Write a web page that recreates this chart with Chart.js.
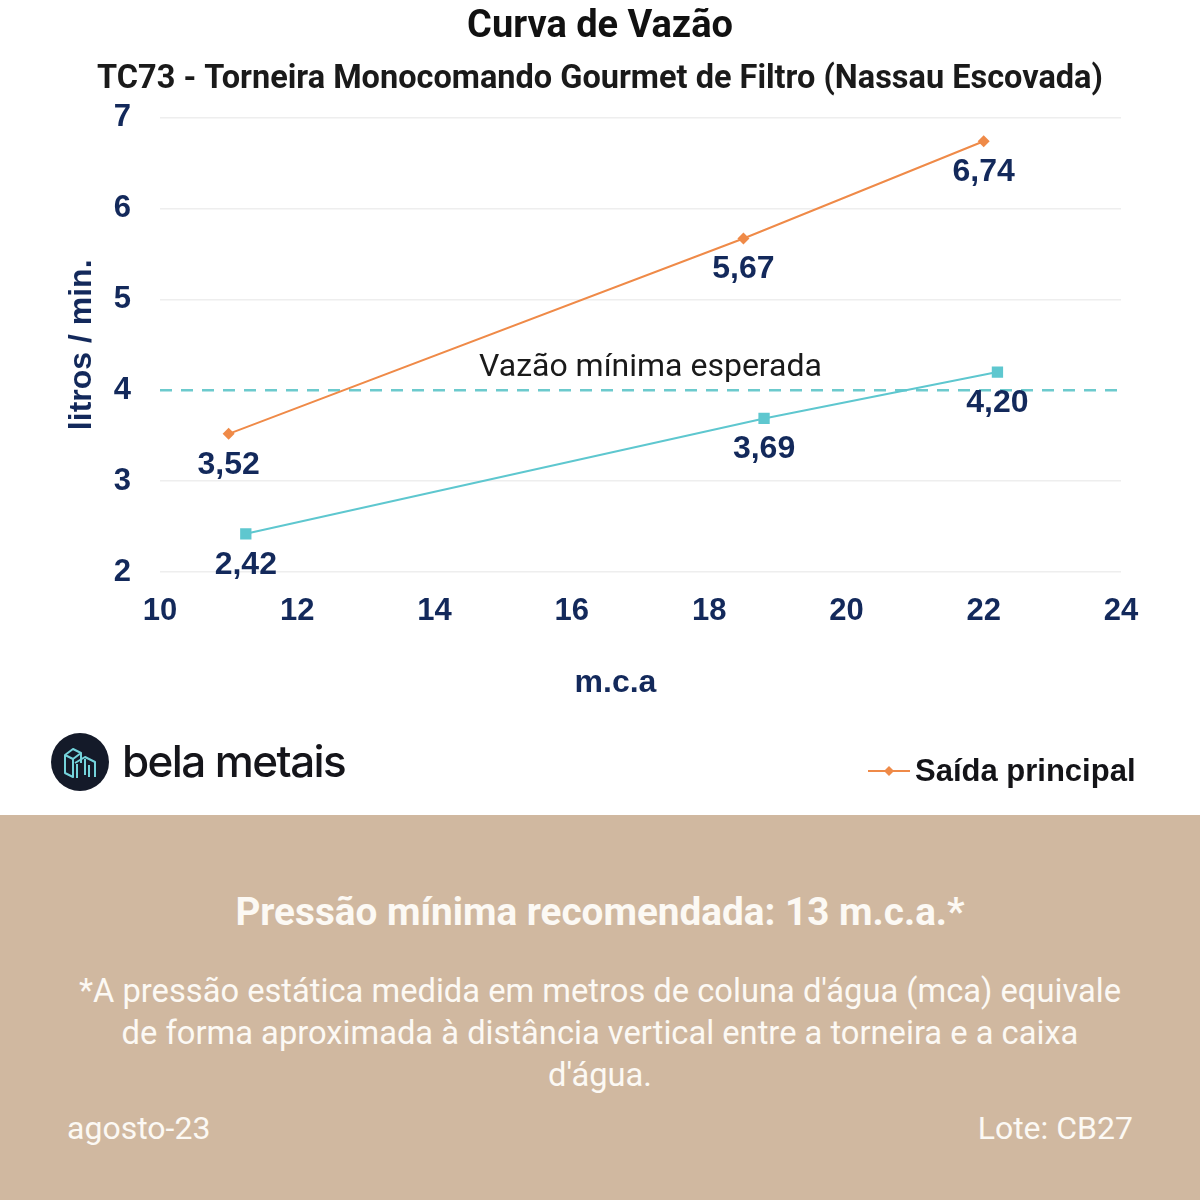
<!DOCTYPE html>
<html><head><meta charset="utf-8">
<script src="https://cdn.jsdelivr.net/npm/chart.js@4.4.0/dist/chart.umd.min.js"></script>
<style>
html,body{margin:0;padding:0;background:#fff;}
#wrap{position:relative;width:1200px;height:1200px;overflow:hidden;background:#fff;}
#chartBox{position:absolute;left:0;top:0;width:1200px;height:815px;}
#logo{position:absolute;left:51px;top:733px;width:300px;height:60px;}
#logoCircle{position:absolute;left:0;top:0;width:58px;height:58px;border-radius:50%;background:#141a29;}
#logoText{position:absolute;left:71px;top:2px;font-family:Inter,"Noto Sans",sans-serif;font-weight:500;font-size:44px;line-height:52px;letter-spacing:-1.6px;color:#15151a;white-space:nowrap;}
#legend{position:absolute;left:866px;top:752px;height:38px;white-space:nowrap;}
#legend svg{position:absolute;left:0;top:0;}
#legend span{position:absolute;left:49px;top:0;font-family:"Liberation Sans",Arial,sans-serif;font-weight:bold;font-size:31px;line-height:38px;color:#141418;}
#panel{position:absolute;left:0;top:815px;width:1200px;height:385px;background:#d0b8a0;color:#fcf9f4;font-family:Roboto,"Liberation Sans",sans-serif;}
#panelTitle{position:absolute;left:0;top:75px;width:1200px;text-align:center;font-weight:bold;font-size:38.7px;line-height:44px;}
#panelNote{position:absolute;left:0;top:155px;width:1200px;text-align:center;font-size:32.7px;line-height:42px;}
#date{position:absolute;left:67px;top:293px;font-size:32px;line-height:40px;}
#lote{position:absolute;right:67px;top:293px;font-size:32px;line-height:40px;}
</style></head><body>
<div id="wrap">
  <div id="chartBox"><canvas id="c" width="1200" height="815"></canvas></div>
  <div id="logo">
    <div id="logoCircle">
      <svg width="58" height="58" viewBox="0 0 58 58">
        <g fill="none" stroke="#74d3db" stroke-width="2" stroke-linejoin="round">
          <path d="M14 22 L22 16 L30 20 L22 26 Z"/>
          <path d="M14 22 L14 40 L22 44 L22 26"/>
          <path d="M30 20 L30 30"/>
          <path d="M24 30 L34 24 L44 29 L44 44"/>
          <path d="M26 31 L26 45 M34 26 L34 42 M38 32 L38 44"/>
        </g>
      </svg>
    </div>
    <div id="logoText">bela metais</div>
  </div>
  <div id="legend">
    <svg width="48" height="38" viewBox="0 0 48 38">
      <line x1="2" y1="19" x2="44" y2="19" stroke="#ef8a48" stroke-width="2"/>
      <path d="M23 14 L28 19 L23 24 L18 19 Z" fill="#ef8a48"/>
    </svg>
    <span id="legendText"></span>
  </div>
  <div id="panel">
    <div id="panelTitle">Pressão mínima recomendada: 13 m.c.a.*</div>
    <div id="panelNote">*A pressão estática medida em metros de coluna d'água (mca) equivale<br>de forma aproximada à distância vertical entre a torneira e a caixa<br>d'água.</div>
    <div id="date">agosto-23</div>
    <div id="lote">Lote: CB27</div>
  </div>
</div>
<script>
// ---- data ----
const chartTitle = 'Curva de Vazão';
const chartSubtitle = 'TC73 - Torneira Monocomando Gourmet de Filtro (Nassau Escovada)';
const mainLabel = 'Saída principal';
const filterLabel = 'Saída filtro';
const thresholdLabel = 'Vazão mínima esperada';
const xAxisTitle = 'm.c.a';
const yAxisTitle = 'litros / min.';
const pressureMain = [11.0, 18.5, 22.0];
const flowMain = [3.52, 5.67, 6.74];
const pressureFilter = [11.25, 18.8, 22.2];
const flowFilter = [2.42, 3.69, 4.20];
const minFlow = 4;
const xRange = [10, 24];
const yRange = [2, 7];
const xStep = 2;
const yStep = 1;

const NAVY = '#13295b';
const ORANGE = '#ef8a48';
const CYAN = '#5ec7cf';
const AXIS_FONT = '"Liberation Sans", Arial, sans-serif';

document.getElementById('legendText').textContent = mainLabel;

const toPoints = (xs, ys) => xs.map((x, i) => ({x: x, y: ys[i]}));

const valueLabels = {
  id: 'valueLabels',
  afterDatasetsDraw(chart) {
    const ctx = chart.ctx;
    const ca = chart.chartArea;
    ctx.save();
    ctx.font = 'bold 32px ' + AXIS_FONT;
    ctx.fillStyle = NAVY;
    ctx.textAlign = 'center';
    ctx.textBaseline = 'middle';
    [0, 1].forEach(di => {
      const meta = chart.getDatasetMeta(di);
      meta.data.forEach((pt, i) => {
        const v = chart.data.datasets[di].data[i].y;
        ctx.fillText(v.toFixed(2).replace('.', ','), pt.x, pt.y + 31);
      });
    });
    // threshold label
    const y = chart.scales.y.getPixelForValue(minFlow);
    ctx.font = '32px Roboto, sans-serif';
    ctx.fillStyle = '#1a1a1a';
    ctx.fillText(thresholdLabel, (ca.left + ca.right) / 2 + 10, y - 22);
    // x axis title
    ctx.font = 'bold 32px ' + AXIS_FONT;
    ctx.fillStyle = NAVY;
    ctx.fillText(xAxisTitle, (ca.left + ca.right) / 2 - 25, ca.bottom + 111);
    ctx.restore();
  }
};

new Chart(document.getElementById('c'), {
  type: 'line',
  data: {
    datasets: [
      {
        label: mainLabel,
        data: toPoints(pressureMain, flowMain),
        borderColor: ORANGE, backgroundColor: ORANGE,
        borderWidth: 2, pointStyle: 'rectRot', pointRadius: 6,
        pointBorderWidth: 0, tension: 0
      },
      {
        label: filterLabel,
        data: toPoints(pressureFilter, flowFilter),
        borderColor: CYAN, backgroundColor: CYAN,
        borderWidth: 2, pointStyle: 'rect', pointRadius: 8,
        pointBorderWidth: 0, tension: 0
      },
      {
        label: thresholdLabel,
        data: toPoints(xRange, [minFlow, minFlow]),
        borderColor: '#6ccacd', borderWidth: 2.5,
        borderDash: [12, 9], pointRadius: 0, tension: 0
      }
    ]
  },
  options: {
    responsive: false,
    animation: false,
    events: [],
    layout: {padding: {top: 0, left: 0, right: 0, bottom: 0}},
    plugins: {
      legend: {display: false},
      tooltip: {enabled: false},
      title: {
        display: true, text: chartTitle, color: '#111111',
        font: {family: 'Roboto', weight: 'bold', size: 38},
        padding: {top: 5, bottom: 2}
      },
      subtitle: {
        display: true, text: chartSubtitle, color: '#1a1a1a',
        font: {family: 'Roboto', weight: 'bold', size: 32.5},
        padding: {top: 8, bottom: 18}
      }
    },
    scales: {
      x: {
        type: 'linear', min: xRange[0], max: xRange[1],
        ticks: {stepSize: xStep, color: NAVY, padding: 21,
          font: {family: AXIS_FONT, weight: 'bold', size: 31}},
        grid: {display: false, drawTicks: false},
        border: {display: false},
        title: {display: false, text: xAxisTitle},
        afterFit(scale) { scale.height = 243; scale.paddingRight = 79; }
      },
      y: {
        min: yRange[0], max: yRange[1],
        ticks: {stepSize: yStep, color: NAVY, padding: 29,
          font: {family: AXIS_FONT, weight: 'bold', size: 31}},
        grid: {drawTicks: false, lineWidth: 1.5,
          color: ctx => (ctx.tick && ctx.tick.value === minFlow) ? 'rgba(0,0,0,0)' : '#eeeeee'},
        border: {display: false},
        title: {display: true, text: yAxisTitle, color: NAVY,
          font: {family: AXIS_FONT, weight: 'bold', size: 32},
          padding: {top: 63, bottom: 0}},
        afterFit(scale) { scale.width = 160; }
      }
    }
  },
  plugins: [valueLabels]
});
</script>
</body></html>
